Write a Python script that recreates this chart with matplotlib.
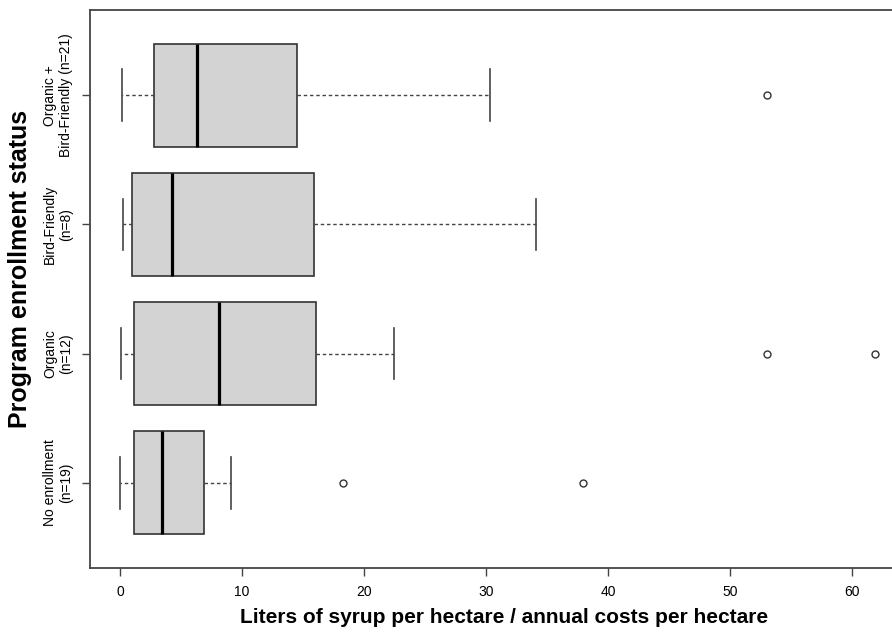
import matplotlib
matplotlib.use("Agg")
import matplotlib.pyplot as plt
from matplotlib import font_manager

# enrollment groups, bottom to top
groups = ["No enrollment\n(n=19)", "Organic\n(n=12)", "Bird-Friendly\n(n=8)", "Organic +\nBird-Friendly (n=21)"]

# five-number summaries per group (liters per hectare / annual costs per hectare)
whisker_low = [0.03, 0.08, 0.25, 0.19]
q1 = [1.12, 1.17, 0.96, 2.81]
median = [3.44, 8.14, 4.28, 6.34]
q3 = [6.91, 16.1, 15.93, 14.48]
whisker_high = [9.07, 22.46, 34.1, 30.3]
outliers = [[18.25, 37.9], [53.0, 61.9], [], [53.0]]

names = {f.name for f in font_manager.fontManager.ttflist}
family = ["Liberation Sans Narrow"] if "Liberation Sans Narrow" in names else ["Liberation Sans"]
plt.rcParams["font.family"] = family + ["DejaVu Sans"]

stats = []
for i in range(len(groups)):
    stats.append({
        "whislo": whisker_low[i], "q1": q1[i], "med": median[i],
        "q3": q3[i], "whishi": whisker_high[i], "fliers": outliers[i],
    })

fig = plt.figure(figsize=(8.92, 6.33), dpi=100)
ax = fig.add_axes([90 / 892, 65 / 633, 811 / 892, 558 / 633])

ax.bxp(stats, positions=[1, 2, 3, 4], vert=False, widths=0.8, patch_artist=True,
       boxprops=dict(facecolor="#d3d3d3", edgecolor="#333333", linewidth=1.2),
       medianprops=dict(color="black", linewidth=2.3, solid_capstyle="butt"),
       whiskerprops=dict(color="#444444", linewidth=1.0, linestyle=(0, (2.5, 2))),
       capprops=dict(color="#444444", linewidth=1.2),
       capwidths=0.4,
       flierprops=dict(marker="o", markersize=5, markerfacecolor="none",
                       markeredgecolor="#333333", markeredgewidth=1.0))

ax.set_xlim(-2.46, 64.0)
ax.set_ylim(0.34, 4.66)

ax.set_xticks(range(0, 61, 10))
ax.set_yticks([1, 2, 3, 4])
ax.set_yticklabels(groups, rotation=90, va="center", ha="center", multialignment="center")
ax.tick_params(axis="x", length=6, width=1, color="#444444", labelsize=10, pad=6)
ax.tick_params(axis="y", length=6, width=1, color="#444444", labelsize=10, pad=17)

for s in ax.spines.values():
    s.set_color("#444444")
    s.set_linewidth(1.3)

ax.set_xlabel("Liters of syrup per hectare / annual costs per hectare",
              fontsize=15, fontweight="bold")
ax.xaxis.set_label_coords(0.51, -0.072)
ax.set_ylabel("Program enrollment status", fontsize=18, fontweight="bold")
ax.yaxis.set_label_coords(-0.0715, 0.536)

fig.savefig("out.png", dpi=100)
